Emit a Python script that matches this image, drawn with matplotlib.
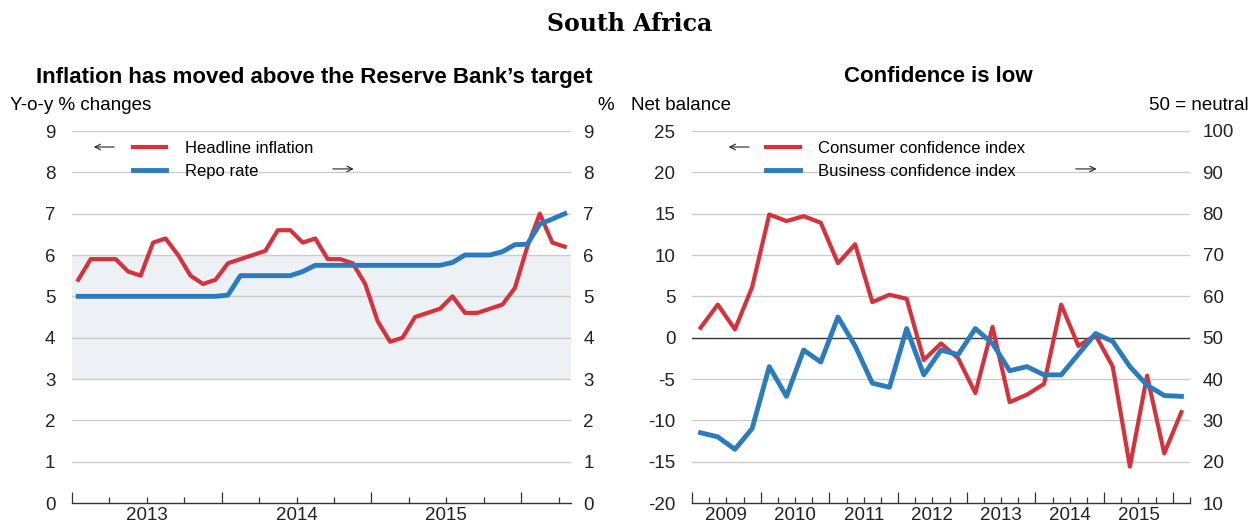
import numpy as np
import matplotlib
matplotlib.use("Agg")
import matplotlib.pyplot as plt
from matplotlib.ticker import FixedLocator, FuncFormatter
from matplotlib.lines import Line2D

plt.rcParams['font.family'] = ['Liberation Sans', 'DejaVu Sans']
plt.rcParams['axes.unicode_minus'] = False

# ---- data: left panel, monthly Jan 2013 - Apr 2016 ----
months = 2013 + (np.arange(40) + 0.5) / 12
headline_inflation = [5.4, 5.9, 5.9, 5.9, 5.6, 5.5, 6.3, 6.4, 6.0, 5.5, 5.3, 5.4,
                      5.8, 5.9, 6.0, 6.1, 6.6, 6.6, 6.3, 6.4, 5.9, 5.9, 5.8, 5.3,
                      4.4, 3.9, 4.0, 4.5, 4.6, 4.7, 5.0, 4.6, 4.6, 4.7, 4.8, 5.2,
                      6.2, 7.0, 6.3, 6.2]
repo_rate = [5.0] * 12 + [5.03, 5.5, 5.5, 5.5, 5.5, 5.5, 5.6] + [5.75] * 11 + \
            [5.82, 6.0, 6.0, 6.0, 6.08, 6.25, 6.26, 6.75, 6.87, 7.0]
target_low, target_high = 3, 6

# ---- data: right panel, quarterly 2009Q1 - 2016Q1 ----
quarters = 2009 + (np.arange(29) + 0.5) / 4
consumer_conf = [1.2, 4.0, 1.0, 6.1, 14.9, 14.1, 14.7, 13.9, 9.0, 11.3,
                 4.3, 5.2, 4.7, -2.7, -0.7, -2.5, -6.7, 1.3, -7.8, -6.9,
                 -5.6, 4.0, -1.0, 0.3, -3.5, -15.6, -4.6, -14.0, -9.0]
business_conf = [27, 26, 23, 28, 43, 35.8, 47, 44.1, 55, 48,
                 39, 38, 52.2, 41, 47, 45.9, 52.2, 48.6, 42, 43,
                 41, 41, 46, 51, 49.1, 43, 38.5, 36, 35.8]

RED = '#d7323b'
BLUE = '#2b7bbf'
GRID = '#cccccc'
FS = 13.5
LFS = 12

fig = plt.figure(figsize=(12.51, 5.24), dpi=100)
ax1 = fig.add_axes([72 / 1251, 21 / 524, 499 / 1251, 372 / 524])
ax2 = fig.add_axes([692 / 1251, 21 / 524, 498 / 1251, 372 / 524])


def year_axis(ax, start, end):
    ax.set_xlim(start, end)
    majors = np.arange(np.ceil(start), end + 1e-9, 1.0)
    minors = [q for q in np.arange(start, end + 1e-9, 0.25) if q % 1 != 0]
    ax.xaxis.set_major_locator(FixedLocator(majors))
    ax.xaxis.set_minor_locator(FixedLocator(minors))
    ax.xaxis.set_major_formatter(FuncFormatter(lambda x, p: ''))
    ax.xaxis.set_minor_formatter(FuncFormatter(
        lambda x, p: str(int(x)) if abs(x % 1 - 0.5) < 1e-6 else ''))
    ax.tick_params(axis='x', which='major', direction='in', length=8, width=0.9, color='#333333')
    ax.tick_params(axis='x', which='minor', direction='in', length=4, width=0.9,
                   color='#333333', labelsize=FS, pad=3, labelcolor='#222222')
    for s in ['top', 'left', 'right']:
        ax.spines[s].set_visible(False)
    ax.spines['bottom'].set_color('#333333')
    ax.spines['bottom'].set_linewidth(1.0)


def y_axis(ax, ymin, ymax, step):
    ax.set_ylim(ymin, ymax)
    ax.set_yticks(np.arange(ymin, ymax + 1e-9, step))
    ax.tick_params(axis='y', length=0, labelsize=FS, pad=12, labelcolor='#222222')


def right_axis(ax, ymin, ymax, step):
    axr = ax.twinx()
    axr.set_ylim(ymin, ymax)
    axr.set_yticks(np.arange(ymin, ymax + 1e-9, step))
    axr.tick_params(axis='y', length=0, labelsize=FS, pad=9, labelcolor='#222222')
    for s in axr.spines.values():
        s.set_visible(False)
    return axr


def legend_with_arrows(ax, labels, x0, left_arrow, right_arrow):
    handles = [Line2D([], [], color=RED, lw=3), Line2D([], [], color=BLUE, lw=3.5)]
    ax.legend(handles, labels, loc='upper left', bbox_to_anchor=(x0, 0.974),
              frameon=False, fontsize=LFS, handlelength=2.0, handletextpad=1.1,
              labelspacing=0.5, borderpad=0, borderaxespad=0)
    ax.annotate('', xy=(left_arrow[0], 0.957), xytext=(left_arrow[1], 0.957),
                xycoords='axes fraction',
                arrowprops=dict(arrowstyle='->', lw=0.8, color='#222222'))
    ax.annotate('', xy=(right_arrow[1], 0.898), xytext=(right_arrow[0], 0.898),
                xycoords='axes fraction',
                arrowprops=dict(arrowstyle='->', lw=0.8, color='#222222'))


# ---- left panel ----
year_axis(ax1, 2013, 2016 + 1 / 3)
y_axis(ax1, 0, 9, 1)
ax1.axhspan(target_low, target_high, color='#edf0f5', zorder=0, lw=0)
for v in np.arange(1, 10):
    ax1.axhline(v, color=GRID, lw=1.0, zorder=1)
ax1.plot(months, headline_inflation, color=RED, lw=3, zorder=3)
ax1.plot(months, repo_rate, color=BLUE, lw=3.5, zorder=4)
ax1r = right_axis(ax1, 0, 9, 1)
legend_with_arrows(ax1r, ['Headline inflation', 'Repo rate'], 0.122,
                   (0.038, 0.09), (0.517, 0.57))

# ---- right panel ----
year_axis(ax2, 2009, 2016.25)
y_axis(ax2, -20, 25, 5)
for v in np.arange(-15, 30, 5):
    if v != 0:
        ax2.axhline(v, color=GRID, lw=1.0, zorder=1)
ax2.axhline(0, color='#333333', lw=1.0, zorder=2)
ax2.plot(quarters, consumer_conf, color=RED, lw=3, zorder=3)
ax2r = right_axis(ax2, 10, 100, 10)
ax2r.plot(quarters, business_conf, color=BLUE, lw=3.5, zorder=4)
legend_with_arrows(ax2r, ['Consumer confidence index', 'Business confidence index'], 0.149,
                   (0.068, 0.12), (0.765, 0.818))

# ---- titles and unit labels ----
fig.text(630 / 1251, 1 - 24 / 524, 'South Africa', ha='center', va='center',
         fontsize=17, fontweight='bold', family='DejaVu Serif')
fig.text(314 / 1251, 1 - 77 / 524, 'Inflation has moved above the Reserve Bank\u2019s target',
         ha='center', va='center', fontsize=16, fontweight='bold')
fig.text(938 / 1251, 1 - 77 / 524, 'Confidence is low', ha='center', va='center',
         fontsize=16, fontweight='bold')
fig.text(10 / 1251, 1 - 105 / 524, 'Y-o-y % changes', ha='left', va='center', fontsize=FS)
fig.text(614 / 1251, 1 - 105 / 524, '%', ha='right', va='center', fontsize=FS)
fig.text(631 / 1251, 1 - 105 / 524, 'Net balance', ha='left', va='center', fontsize=FS)
fig.text(1249 / 1251, 1 - 105 / 524, '50 = neutral', ha='right', va='center', fontsize=FS)

fig.savefig('out.png', dpi=100)
